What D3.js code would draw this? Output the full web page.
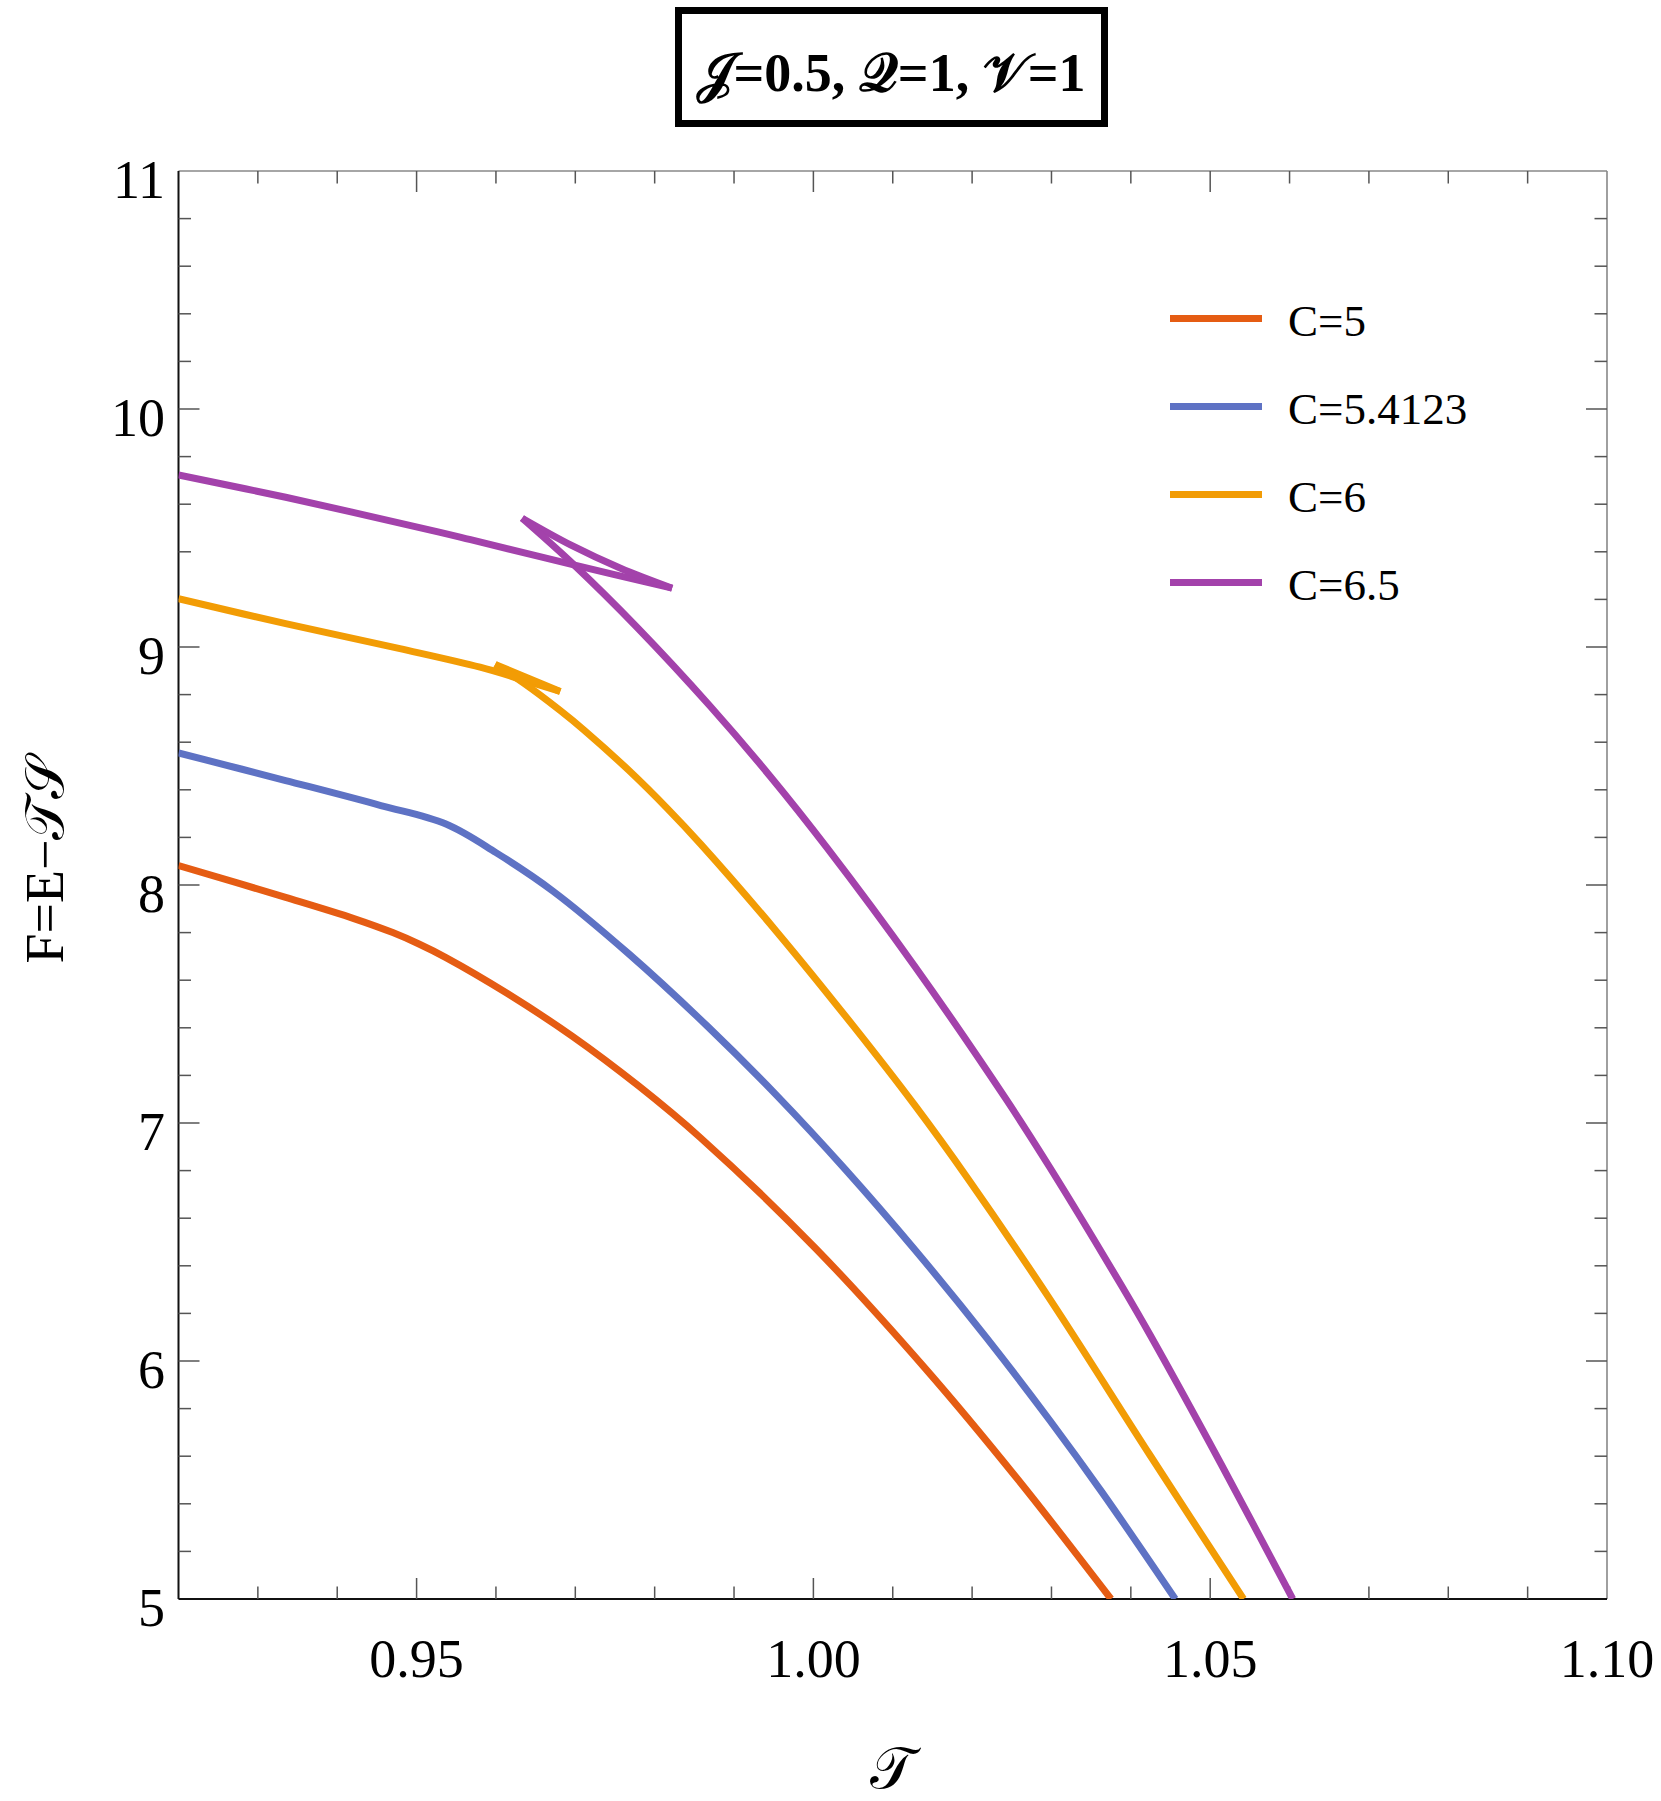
<!DOCTYPE html>
<html><head><meta charset="utf-8">
<script src="https://cdn.jsdelivr.net/npm/d3@7"></script>
<style>body{margin:0;background:#fff}</style>
</head><body>
<svg id="chart" width="1661" height="1801"></svg>
<script>
// ---- data ----
const xDomain = [0.92, 1.10];
const yDomain = [5, 11];
const xMajorTicks = [0.95, 1.00, 1.05, 1.10];
const xTickLabels = ["0.95", "1.00", "1.05", "1.10"];
const xMinorTicks = [0.93, 0.94, 0.96, 0.97, 0.98, 0.99, 1.01, 1.02, 1.03, 1.04, 1.06, 1.07, 1.08, 1.09];
const yMajorTicks = [5, 6, 7, 8, 9, 10, 11];
const yTickLabels = ["5", "6", "7", "8", "9", "10", "11"];
const yMinorTicks = [5.2,5.4,5.6,5.8,6.2,6.4,6.6,6.8,7.2,7.4,7.6,7.8,8.2,8.4,8.6,8.8,9.2,9.4,9.6,9.8,10.2,10.4,10.6,10.8];
const seriesLabels = ["C=5", "C=5.4123", "C=6", "C=6.5"];
const seriesColors = ["#E55C13", "#5E72C4", "#F29C05", "#A342AB"];
const titleText = "\u{1D4A5}=0.5, \u{1D4AC}=1, \u{1D4B1}=1";
const xLabelText = "\u{1D4AF}";
const yLabelText = "F=E\u2212\u{1D4AF}\u{1D4AE}";

// C=5
const c5 = [[0.9200,8.082],[0.9335,7.948],[0.9421,7.859],[0.9470,7.800],[0.9503,7.752],[0.9537,7.695],
  [0.9614,7.545],[0.9696,7.365],[0.9780,7.155],[0.9858,6.937],[1.0002,6.476],[1.0142,5.965],[1.0258,5.501],
  [1.0375,5.000]];
// C=5.4123
const c54123 = [[0.9200,8.555],[0.9335,8.439],[0.9455,8.334],[0.9537,8.256],[0.9600,8.136],[0.9672,7.974],
  [0.9768,7.709],[0.9866,7.408],[0.9954,7.115],[1.0041,6.802],[1.0130,6.459],[1.0219,6.094],[1.0298,5.750],
  [1.0364,5.447],[1.0456,5.000]];
// C=6 (swallowtail: small branch, middle branch, large branch)
const c6Small = [[0.9200,9.203],[0.9335,9.098],[0.9479,8.993],[0.9580,8.915],[0.9631,8.865],[0.9681,8.813]];
const c6Middle = [[0.9681,8.813],[0.9640,8.870],[0.9599,8.927]];
const c6Large = [[0.9599,8.927],[0.9635,8.848],[0.9681,8.733],[0.9711,8.651],[0.9767,8.483],[0.9817,8.318],
  [0.9858,8.172],[0.9954,7.803],[1.0050,7.409],[1.0127,7.078],[1.0195,6.765],[1.0298,6.260],[1.0424,5.605],[1.0542,5.000]];
// C=6.5
const c65Small = [[0.9200,9.723],[0.9335,9.629],[0.9527,9.484],[0.9568,9.451],[0.9698,9.345],[0.9822,9.247]];
const c65Middle = [[0.9822,9.247],[0.9757,9.331],[0.9694,9.429],[0.9633,9.541]];
const c65Large = [[0.9633,9.541],[0.9698,9.346],[0.9778,9.082],[0.9870,8.751],[0.9946,8.455],[1.0017,8.157],
  [1.0127,7.662],[1.0243,7.099],[1.0298,6.813],[1.0388,6.318],[1.0424,6.111],[1.0514,5.565],[1.0604,5.000]];

const series = [
  {label: seriesLabels[0], color: seriesColors[0], branches: [c5]},
  {label: seriesLabels[1], color: seriesColors[1], branches: [c54123]},
  {label: seriesLabels[2], color: seriesColors[2], branches: [c6Small, c6Middle, c6Large]},
  {label: seriesLabels[3], color: seriesColors[3], branches: [c65Small, c65Middle, c65Large]}
];

// ---- layout ----
const L = 178.5, R = 1607, T = 171, B = 1599;
const svg = d3.select("#chart");
const x = d3.scaleLinear().domain(xDomain).range([L, R]);
const y = d3.scaleLinear().domain(yDomain).range([B, T]);
const serif = "'Liberation Serif','Times New Roman',serif";
const majorLen = 21, minorLen = 12.5;

svg.append("defs").append("clipPath").attr("id","plotclip")
  .append("rect").attr("x", L).attr("y", T).attr("width", R-L).attr("height", B-T);

// frame
svg.append("line").attr("x1",L).attr("x2",R).attr("y1",T).attr("y2",T).attr("stroke","#888").attr("stroke-width",1.6);
svg.append("line").attr("x1",R).attr("x2",R).attr("y1",T).attr("y2",B).attr("stroke","#888").attr("stroke-width",1.6);
svg.append("line").attr("x1",L).attr("x2",R).attr("y1",B).attr("y2",B).attr("stroke","#111").attr("stroke-width",2);
svg.append("line").attr("x1",L).attr("x2",L).attr("y1",T).attr("y2",B).attr("stroke","#111").attr("stroke-width",2);

const tickG = svg.append("g").attr("stroke","#555").attr("stroke-width",1.5);
function xt(vals, len) {
  vals.forEach(v => {
    tickG.append("line").attr("x1",x(v)).attr("x2",x(v)).attr("y1",B).attr("y2",B-len);
    tickG.append("line").attr("x1",x(v)).attr("x2",x(v)).attr("y1",T).attr("y2",T+len);
  });
}
function yt(vals, len) {
  vals.forEach(v => {
    tickG.append("line").attr("y1",y(v)).attr("y2",y(v)).attr("x1",L).attr("x2",L+len);
    tickG.append("line").attr("y1",y(v)).attr("y2",y(v)).attr("x1",R).attr("x2",R-len);
  });
}
xt(xMajorTicks.filter(v => v < 1.099), majorLen);
xt(xMinorTicks, minorLen);
yt(yMajorTicks.filter(v => v > 5.01 && v < 10.99), majorLen);
yt(yMinorTicks, minorLen);

// tick labels
svg.append("g").selectAll("text").data(xMajorTicks).join("text")
  .attr("x", d => x(d)).attr("y", 1677).attr("text-anchor","middle")
  .attr("font-family", serif).attr("font-size", 54).attr("fill","#000")
  .text((d,i) => xTickLabels[i]);
svg.append("g").selectAll("text").data(yMajorTicks).join("text")
  .attr("x", 165).attr("y", d => y(d) + 27).attr("text-anchor","end")
  .attr("font-family", serif).attr("font-size", 54).attr("fill","#000")
  .text((d,i) => yTickLabels[i]);

// axis labels
svg.append("text").attr("x", 892).attr("y", 1788).attr("text-anchor","middle")
  .attr("font-family", serif).attr("font-size", 58).text(xLabelText);
svg.append("text").attr("transform","translate(63,860) rotate(-90)").attr("text-anchor","middle")
  .attr("font-family", serif).attr("font-size", 54).text(yLabelText);

// title box
svg.append("rect").attr("x", 678.5).attr("y", 10.5).attr("width", 426).attr("height", 113)
  .attr("fill","none").attr("stroke","#000").attr("stroke-width",7);
svg.append("text").attr("x", 891).attr("y", 91).attr("text-anchor","middle")
  .attr("font-family", serif).attr("font-size", 54).attr("font-weight","bold").text(titleText);

// curves
const line = d3.line().x(d => x(d[0])).y(d => y(d[1])).curve(d3.curveCatmullRom.alpha(0.5));
const plot = svg.append("g").attr("clip-path","url(#plotclip)");
series.forEach(s => {
  s.branches.forEach(b => {
    plot.append("path").attr("d", line(b)).attr("fill","none")
      .attr("stroke", s.color).attr("stroke-width", 7)
      .attr("stroke-linejoin","round").attr("stroke-linecap","butt");
  });
});

// legend
const lg = svg.append("g");
series.forEach((s, i) => {
  const cy = 318.5 + i * 88;
  lg.append("line").attr("x1", 1170).attr("x2", 1262).attr("y1", cy).attr("y2", cy)
    .attr("stroke", s.color).attr("stroke-width", 7);
  lg.append("text").attr("x", 1288).attr("y", cy + 17.5)
    .attr("font-family", serif).attr("font-size", 45).attr("fill","#000").text(s.label);
});
</script>
</body></html>
